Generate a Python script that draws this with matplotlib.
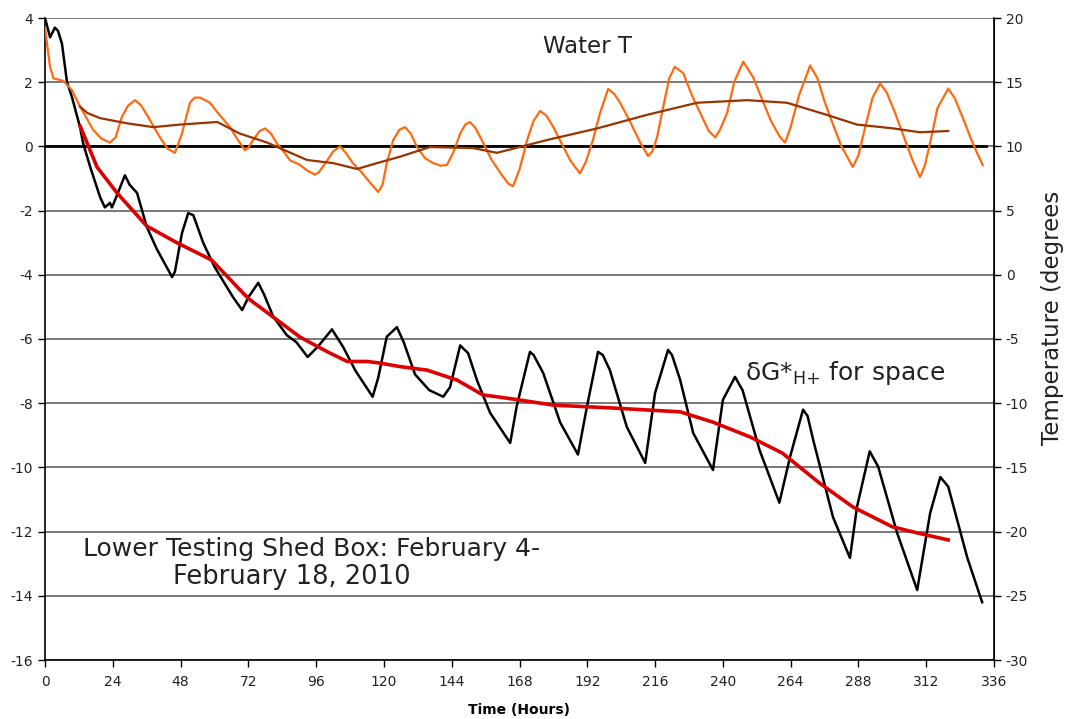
import matplotlib

matplotlib.use("Agg", force=True)
import matplotlib.pyplot as plt
import numpy as np

# delta G* (left axis)
dg_hours = [0, 1.8, 3.5, 4.6, 6, 7.8, 9.5, 12.4, 13.5, 16, 19.5, 21.2, 23, 23.7, 24.8, 28.3, 30,
            32.6, 36, 39.6, 45, 46, 48.5, 50.7, 52.5, 56, 60, 66.6, 69.8, 72, 75.5, 77.5, 80.8,
            85.6, 89, 93, 96.6, 101.6, 105.5, 110, 116, 118, 121, 124.6, 127, 131, 136, 141,
            143.4, 147, 149.8, 153, 157.6, 164.7, 167, 171.7, 173, 176.4, 182.4, 188.7, 191.9,
            195.8, 197.5, 200, 206, 212.5, 216, 220.6, 222, 224.9, 229.5, 236.5, 240, 244.3, 247,
            253, 260, 263.8, 268.4, 270, 272, 279, 285, 287.5, 292, 295, 301.7, 308.8, 313.4,
            317, 319.8, 326.5, 331.8]
dg_values = [4.0, 3.4, 3.7, 3.6, 3.2, 2.0, 1.55, 0.6, 0.1, -0.64, -1.58, -1.9, -1.76, -1.9, -1.67,
             -0.9, -1.2, -1.45, -2.5, -3.2, -4.07, -3.9, -2.7, -2.08, -2.14, -3.0, -3.75, -4.7,
             -5.1, -4.7, -4.25, -4.6, -5.3, -5.88, -6.1, -6.56, -6.24, -5.7, -6.24, -7.0, -7.8,
             -7.2, -5.93, -5.63, -6.1, -7.1, -7.59, -7.8, -7.5, -6.2, -6.44, -7.3, -8.3, -9.24,
             -8.1, -6.4, -6.5, -7.06, -8.6, -9.6, -8.1, -6.4, -6.5, -6.97, -8.74, -9.86, -7.68,
             -6.34, -6.5, -7.28, -8.93, -10.08, -7.9, -7.18, -7.6, -9.46, -11.1, -9.67, -8.2,
             -8.4, -9.15, -11.55, -12.82, -11.23, -9.5, -9.98, -12.04, -13.82, -11.42, -10.3,
             -10.6, -12.8, -14.2]

# smoothed delta G* (left axis)
dg_smooth_hours = [12.4, 18.4, 25.5, 36, 46.7, 59, 72, 90.3, 100, 107, 114, 118.6, 125.7, 135.3,
                   145.9, 155, 165.7, 180, 201, 224.9, 236.5, 249.6, 261, 274.4, 286, 300, 308.8,
                   319.8]
dg_smooth_values = [0.64, -0.64, -1.45, -2.48, -3.0, -3.54, -4.74, -5.94, -6.4, -6.7, -6.7, -6.75,
                    -6.86, -6.97, -7.28, -7.74, -7.87, -8.06, -8.15, -8.27, -8.59, -9.05, -9.55,
                    -10.5, -11.23, -11.85, -12.04, -12.26]

# water temperature (right axis)
water_hours = [0, 1, 1.8, 3, 6.5, 9.5, 12.4, 15, 17, 20, 23, 25, 27.2, 29.5, 31.9, 34, 36.5, 40.7,
               43.5, 46, 48.5, 51.3, 53, 54.9, 58.4, 62, 65.5, 68, 70.8, 72, 73.7, 76, 77.9, 80,
               82, 84.5, 86.8, 90, 93, 95.6, 97, 99.9, 102, 104.5, 106.5, 109, 112, 115, 118,
               119.5, 121, 123.3, 125.5, 127.5, 129.5, 131.7, 134.5, 137.4, 140, 142.3, 144.5,
               147, 148.8, 150.5, 152.5, 155, 158, 161, 164, 165.7, 168, 170.7, 173, 175.3,
               177.5, 180, 183, 186, 189.4, 191.5, 194, 196.5, 199.4, 201.5, 203.6, 207, 210.5,
               213.5, 215, 216.7, 219, 221, 223, 226, 229, 232, 235, 237.3, 239, 241.5, 244,
               247.2, 250.7, 254, 257, 260.3, 262, 264, 267, 270.9, 273.5, 276, 279, 282, 286,
               288, 290.5, 293, 295.7, 298, 301, 304, 307, 309.8, 311.5, 313.5, 316, 319.8, 322,
               325, 328, 330, 332]
water_temp = [19.3, 17.5, 16.2, 15.3, 15.1, 14.4, 13.1, 12.1, 11.3, 10.6, 10.3, 10.7, 12.3, 13.2,
              13.6, 13.2, 12.3, 10.7, 9.8, 9.5, 11.0, 13.4, 13.8, 13.8, 13.4, 12.4, 11.5, 10.6,
              9.7, 9.9, 10.5, 11.2, 11.4, 11.0, 10.26, 9.6, 8.9, 8.6, 8.1, 7.8, 8.0, 8.9, 9.6,
              10.0, 9.5, 8.7, 8.0, 7.2, 6.45, 7.0, 8.7, 10.5, 11.3, 11.5, 11.0, 9.95, 9.1, 8.7,
              8.5, 8.55, 9.5, 11.0, 11.7, 11.9, 11.4, 10.34, 9.0, 8.0, 7.1, 6.9, 8.2, 10.5, 12.0,
              12.76, 12.4, 11.5, 10.2, 8.9, 7.9, 8.8, 10.5, 12.6, 14.47, 14.1, 13.4, 12.0, 10.4,
              9.25, 9.6, 10.7, 13.2, 15.3, 16.2, 15.7, 14.0, 12.6, 11.2, 10.7, 11.3, 12.6, 15.0,
              16.6, 15.4, 13.6, 12.0, 10.7, 10.3, 11.5, 14.0, 16.3, 15.3, 13.5, 11.7, 10.0, 8.4,
              9.3, 11.6, 13.8, 14.9, 14.2, 12.6, 10.8, 9.0, 7.6, 8.5, 10.4, 13.0, 14.5, 13.8, 12.2,
              10.5, 9.5, 8.55]

# smoothed water temperature (right axis)
water_smooth_hours = [12.4, 15, 19.5, 29, 38.3, 47.8, 61, 69, 78.6, 92.8, 102, 110.5, 117.6,
                      125.7, 136.3, 151.6, 160, 177.8, 195.5, 213, 230.9, 248.6, 262.7, 276.9,
                      287.5, 300.4, 309.8, 319.8]
water_smooth_temp = [13.1, 12.6, 12.2, 11.8, 11.5, 11.7, 11.9, 11.0, 10.3, 8.94, 8.7, 8.24, 8.7,
                     9.2, 9.95, 9.87, 9.5, 10.5, 11.4, 12.45, 13.4, 13.6, 13.4, 12.45, 11.7, 11.4,
                     11.1, 11.2]

zero_hours = [0, 333]
zero_values = [0, 0]

x_ticks = list(range(0, 337, 24))
left_ticks = list(range(-16, 5, 2))
right_ticks = list(range(-30, 21, 5))

plt.rcParams["font.family"] = "DejaVu Sans"
plt.rcParams["axes.unicode_minus"] = False

TEXT = "#222222"

fig = plt.figure(figsize=(10.66, 7.19), dpi=100)
ax = fig.add_axes([45 / 1066, 59 / 719, 949 / 1066, 642 / 719])
ax2 = ax.twinx()

for y in left_ticks:
    ax.axhline(y, color="#555555", linewidth=1.1, zorder=0)
ax.plot(zero_hours, zero_values, color="black", linewidth=2.0, zorder=1)

ax.plot(dg_hours, dg_values, color="black", linewidth=1.8, zorder=3)
ax.plot(dg_smooth_hours, dg_smooth_values, color="#dd0000", linewidth=2.6, zorder=4)
ax2.plot(water_hours, water_temp, color="#ff6a10", linewidth=1.6, zorder=3)
ax2.plot(water_smooth_hours, water_smooth_temp, color="#993300", linewidth=1.6, zorder=4)

ax.set_xlim(0, 336)
ax.set_ylim(-16, 4)
ax2.set_ylim(-30, 20)
ax.set_xticks(x_ticks)
ax.set_yticks(left_ticks)
ax2.set_yticks(right_ticks)

for a in (ax, ax2):
    a.spines["top"].set_visible(False)
    a.tick_params(direction="out", length=5, width=1, labelsize=10, colors="black",
                  labelcolor=TEXT)
ax.spines["left"].set_linewidth(1.2)
ax.spines["bottom"].set_linewidth(1.2)
ax2.spines["right"].set_linewidth(1.2)
ax2.spines["left"].set_visible(False)
ax2.spines["bottom"].set_visible(False)
ax.tick_params(axis="x", pad=6)

ax.set_xlabel("Time (Hours)", fontsize=10, fontweight="bold")
ax.xaxis.set_label_coords(0.5, -(703 - 660) / 642)

fig.text(1052 / 1066, 1 - 445 / 719, "Temperature (degrees", rotation=90, fontsize=16.5,
         ha="center", va="bottom", color=TEXT)

ax.text(192, 3.1, "Water T", fontsize=16.5, ha="center", va="center", color=TEXT)
ax.text(248, -7.06, r"δG*$_{\mathrm{H{+}}}$ for space", fontsize=18, ha="left",
        va="center", color=TEXT)
ax.text(94.5, -12.55, "Lower Testing Shed Box: February 4-", fontsize=18,
        ha="center", va="center", color=TEXT)
ax.text(87.5, -13.4, "February 18, 2010", fontsize=18.5,
        ha="center", va="center", color=TEXT)

fig.savefig("out.png", dpi=100)
